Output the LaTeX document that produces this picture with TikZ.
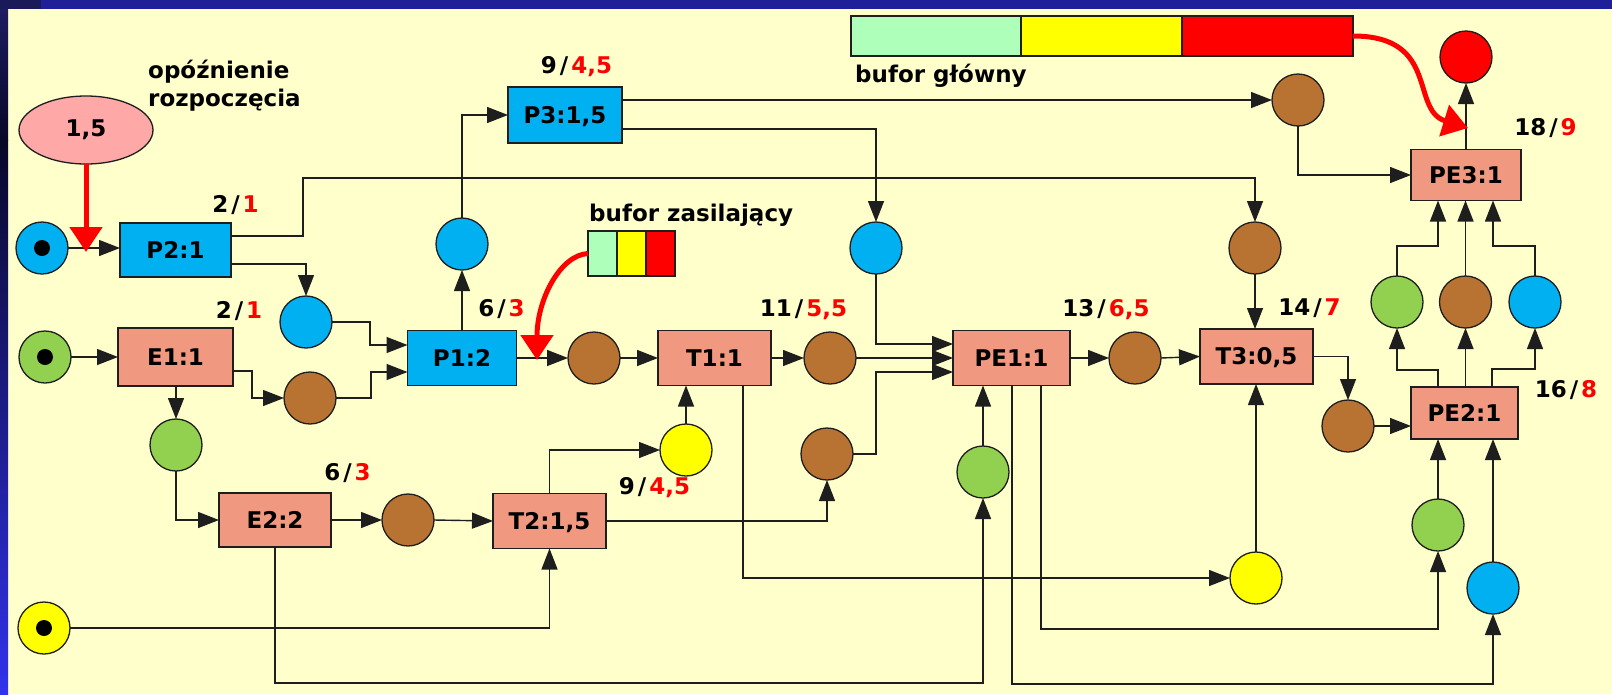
\documentclass[tikz,border=0pt]{standalone}
\usepackage{fontspec}
\setmainfont{DejaVu Sans}
\usetikzlibrary{arrows.meta,shapes.geometric,calc}
\definecolor{bgy}{RGB}{255,255,204}
\definecolor{topbar}{RGB}{31,31,153}
\definecolor{topdark}{RGB}{26,26,90}
\definecolor{stripetop}{RGB}{28,28,96}
\definecolor{stripemid}{RGB}{8,8,40}
\definecolor{stripebot}{RGB}{50,50,235}
\definecolor{linec}{RGB}{30,30,30}
\definecolor{cblue}{RGB}{0,176,240}
\definecolor{cbrown}{RGB}{184,115,51}
\definecolor{cgreen}{RGB}{146,208,80}
\definecolor{cyellow}{RGB}{255,255,0}
\definecolor{cred}{RGB}{255,0,0}
\definecolor{csalmon}{RGB}{241,152,128}
\definecolor{cpink}{RGB}{255,168,168}
\definecolor{clgreen}{RGB}{173,255,186}
\newcommand{\mysl}{\kern3pt/\kern3pt}
\newcommand{\bigbold}{\bfseries\fontsize{23}{27}\selectfont}
\tikzset{
  ln/.style={draw=linec, line width=1.4pt},
  arr/.style={ln, -{Triangle[length=21pt,width=16pt]}},
  place/.style={circle, draw=linec, line width=1.3pt, minimum size=52pt, inner sep=0pt, outer sep=0pt},
  pb/.style={place, fill=cblue},
  pbr/.style={place, fill=cbrown},
  pg/.style={place, fill=cgreen},
  py/.style={place, fill=cyellow},
  pr/.style={place, fill=cred},
  task/.style={rectangle, draw=linec, line width=1.3pt, inner sep=0pt, outer sep=0pt, font=\bigbold, text height=16pt, text depth=0pt},
  tsal/.style={task, fill=csalmon},
  tblu/.style={task, fill=cblue},
  lbl/.style={font=\bigbold, text height=16pt, text depth=0pt, inner sep=0pt},
  txt/.style={font=\bigbold, inner sep=0pt},
  bufcell/.style={rectangle, draw=linec, line width=1.3pt, inner sep=0pt, outer sep=0pt},
  redarr/.style={draw=cred, line width=5pt, -{Triangle[length=25pt,width=32pt]}},
}
\begin{document}
\begin{tikzpicture}[x=1pt,y=-1pt]
\useasboundingbox (0,0) rectangle (1612,694);
\fill[bgy] (0,0) rectangle (1612,694);
\fill[topbar] (0,0) rectangle (1612,9);
\fill[topdark] (0,0) rectangle (41,9);
\shade[top color=stripetop, bottom color=stripemid] (0,9) rectangle (8,140);
\shade[top color=stripemid, bottom color=stripebot] (0,140) rectangle (8,694);

% places
\node[pb] (tokB) at (42,248) {};
\node[pg] (tokG) at (45,357) {};
\node[py] (tokY) at (44,628) {};
\fill[black] (tokB.center) circle (8pt);
\fill[black] (tokG.center) circle (8pt);
\fill[black] (tokY.center) circle (8pt);
\node[ellipse, draw=linec, line width=1.3pt, fill=cpink, minimum width=134pt, minimum height=68pt, inner sep=0pt, outer sep=0pt, font=\bigbold] (del) at (86,130) {1,5};

\node[pb] (cB1) at (306,322) {};
\node[pbr] (cBr1) at (310,398) {};
\node[pg] (cG1) at (176,445) {};
\node[pbr] (cBr2) at (408,520) {};
\node[pb] (cB2) at (462,244) {};
\node[pbr] (cBr3) at (594,358) {};
\node[py] (cY1) at (686,450) {};
\node[pbr] (cBr4) at (830,358) {};
\node[pbr] (cBr5) at (827,454) {};
\node[pb] (cB3) at (876,248) {};
\node[pg] (cG2) at (983,472) {};
\node[pbr] (cBr6) at (1135,358) {};
\node[pbr] (cBr7) at (1255,248) {};
\node[py] (cY2) at (1256,578) {};
\node[pbr] (cBr8) at (1298,100) {};
\node[pr] (cR) at (1466,57) {};
\node[pg] (cG3) at (1397,302) {};
\node[pbr] (cBr9) at (1465.5,302) {};
\node[pb] (cB4) at (1535,302) {};
\node[pbr] (cBr10) at (1348,426) {};
\node[pg] (cG4) at (1438,525) {};
\node[pb] (cB5) at (1493,588) {};

% tasks
\node[tblu, minimum width=111pt, minimum height=54pt] (P2) at (175.5,250) {P2:1};
\node[tsal, minimum width=115pt, minimum height=58pt] (E1) at (175.5,357) {E1:1};
\node[tsal, minimum width=112pt, minimum height=54pt] (E2) at (275,520) {E2:2};
\node[tblu, minimum width=109pt, minimum height=55pt] (P1) at (462,358) {P1:2};
\node[tblu, minimum width=114pt, minimum height=56pt] (P3) at (565,115) {P3:1,5};
\node[tsal, minimum width=113pt, minimum height=55pt] (T1) at (714.5,358) {T1:1};
\node[tsal, minimum width=113pt, minimum height=55pt] (T2) at (549.5,521) {T2:1,5};
\node[tsal, minimum width=117pt, minimum height=55pt] (PE1) at (1011.5,358) {PE1:1};
\node[tsal, minimum width=113pt, minimum height=55pt] (T3) at (1256.5,356.5) {T3:0,5};
\node[tsal, minimum width=110pt, minimum height=51pt] (PE3) at (1466,175) {PE3:1};
\node[tsal, minimum width=107pt, minimum height=52pt] (PE2) at (1464.5,413) {PE2:1};

% buffers
\node[bufcell, fill=clgreen, minimum width=29pt, minimum height=45pt] (sbG) at (602.5,253.5) {};
\node[bufcell, fill=cyellow, minimum width=29pt, minimum height=45pt] (sbY) at (631.5,253.5) {};
\node[bufcell, fill=cred, minimum width=29pt, minimum height=45pt] (sbR) at (660.5,253.5) {};
\node[bufcell, fill=clgreen, minimum width=170pt, minimum height=40pt] (mbG) at (936,36) {};
\node[bufcell, fill=cyellow, minimum width=161pt, minimum height=40pt] (mbY) at (1101.5,36) {};
\node[bufcell, fill=cred, minimum width=171pt, minimum height=40pt] (mbR) at (1267.5,36) {};

% texts
\node[txt, anchor=base west] (op1) at (148,78) {opóźnienie};
\node[txt, anchor=base west] (op2) at (148,106) {rozpoczęcia};
\node[txt, anchor=base west] (bz) at (589,221) {bufor zasilający};
\node[txt, anchor=base west] (bg) at (855,82) {bufor główny};

% time labels
\node[lbl] (lP2) at (235.5,204) {2\mysl\textcolor{cred}{1}};
\node[lbl] (lE1) at (239,310) {2\mysl\textcolor{cred}{1}};
\node[lbl] (lP3) at (576.5,65) {9\mysl\textcolor{cred}{4,5}};
\node[lbl] (lP1) at (501.5,308.5) {6\mysl\textcolor{cred}{3}};
\node[lbl] (lE2) at (347.5,472) {6\mysl\textcolor{cred}{3}};
\node[lbl] (lT1) at (803.5,308.5) {11\mysl\textcolor{cred}{5,5}};
\node[lbl] (lT2) at (654.5,486) {9\mysl\textcolor{cred}{4,5}};
\node[lbl] (lPE1) at (1106,308.5) {13\mysl\textcolor{cred}{6,5}};
\node[lbl] (lT3) at (1309.5,307) {14\mysl\textcolor{cred}{7}};
\node[lbl] (lPE3) at (1545.5,127) {18\mysl\textcolor{cred}{9}};
\node[lbl] (lPE2) at (1566,389) {16\mysl\textcolor{cred}{8}};

% connectors
\draw[arr] (tokB.east) -- (tokB.east -| P2.west);
\draw[arr] (tokG.east) -- (tokG.east -| E1.west);
\draw[arr] ([yshift=14pt]P2.east) -| (303,178) -| (cBr7.north);
\draw[arr] ([yshift=-14pt]P2.east) -| (cB1.north);
\draw[arr] ([yshift=-14pt]E1.east) -| (252,398) -- (cBr1.west);
\draw[arr] (E1.south -| cG1) -- (cG1.north);
\draw[arr] (cG1.south) |- (E2.west);
\draw[arr] (cB1.east) -- (370,322) |- ([yshift=13pt]P1.west);
\draw[arr] (cBr1.east) -- (371,398) |- ([yshift=-14pt]P1.west);
\draw[arr] (P1.north) -- (cB2.south);
\draw[arr] (cB2.north) |- (P3.west);
\draw[arr] ([yshift=15pt]P3.east) -- (cBr8.west);
\draw[arr] ([yshift=-14pt]P3.east) -| (cB3.north);
\draw[arr] (P1.east) -- (cBr3.west);
\draw[arr] (cBr3.east) -- (T1.west);
\draw[arr] (T1.east) -- (cBr4.west);
\draw[arr] (cBr4.east) -- (PE1.west);
\draw[arr] (cB3.south) |- ([yshift=14pt]PE1.west);
\draw[arr] (cBr5.east) -- (876,454) |- ([yshift=-14pt]PE1.west);
\draw[arr] (cY1.north) -- (cY1.north |- T1.south);
\draw[arr] (T2.north) |- (cY1.west);
\draw[arr] (E2.east) -- (cBr2.west);
\draw[arr] (cBr2.east) -- (T2.west);
\draw[arr] (tokY.east) -| (T2.south);
\draw[arr] (T2.east) -| (cBr5.south);
\draw[arr] ([xshift=28.5pt]T1.south) |- (cY2.west);
\draw[arr] (E2.south) |- (983,683) -- (cG2.south);
\draw[arr] (cG2.north) -- (cG2.north |- PE1.south);
\draw[arr] (PE1.east) -- (cBr6.west);
\draw[arr] (cBr6.east) -- (T3.west);
\draw[arr] ([xshift=0.5pt]PE1.south) |- (1493,684) -- (cB5.south);
\draw[arr] ([xshift=29.5pt]PE1.south) |- (1438,629) -- (cG4.south);
\draw[arr] (cBr7.south) -- (cBr7.south |- T3.north);
\draw[arr] (cY2.north) -- (cY2.north |- T3.south);
\draw[arr] (T3.east) -| (cBr10.north);
\draw[arr] (cBr10.east) -- (cBr10.east -| PE2.west);
\draw[arr] (cG4.north) -- (cG4.north |- PE2.south);
\draw[arr] (cB5.north) -- (cB5.north |- PE2.south);
\draw[arr] ([xshift=-26.5pt]PE2.north) |- (1397,370) -- (cG3.south);
\draw[arr] (PE2.north -| cBr9) -- (cBr9.south);
\draw[arr] ([xshift=27.5pt]PE2.north) |- (1535,369) -- (cB4.south);
\draw[arr] (cG3.north) -- (1397,246) -| ([xshift=-28pt]PE3.south);
\draw[arr] (cBr9.north) -- (cBr9.north |- PE3.south);
\draw[arr] (cB4.north) -- (1535,246) -| ([xshift=27pt]PE3.south);
\draw[arr] (cBr8.south) |- (PE3.west);
\draw[arr] (PE3.north) -- (cR.south);

% red buffer arrows
\coordinate (dtip) at (86,252);
\coordinate (stip) at (537,360);
\coordinate (mtip) at (1468,128);
\draw[redarr] (del.south) -- (dtip);
\draw[redarr] (sbG.west) .. controls (560,255) and (537,300) .. (stip);
\draw[redarr] (mbR.east) .. controls (1440,36) and (1410,110) .. (mtip);
\end{tikzpicture}
\end{document}
